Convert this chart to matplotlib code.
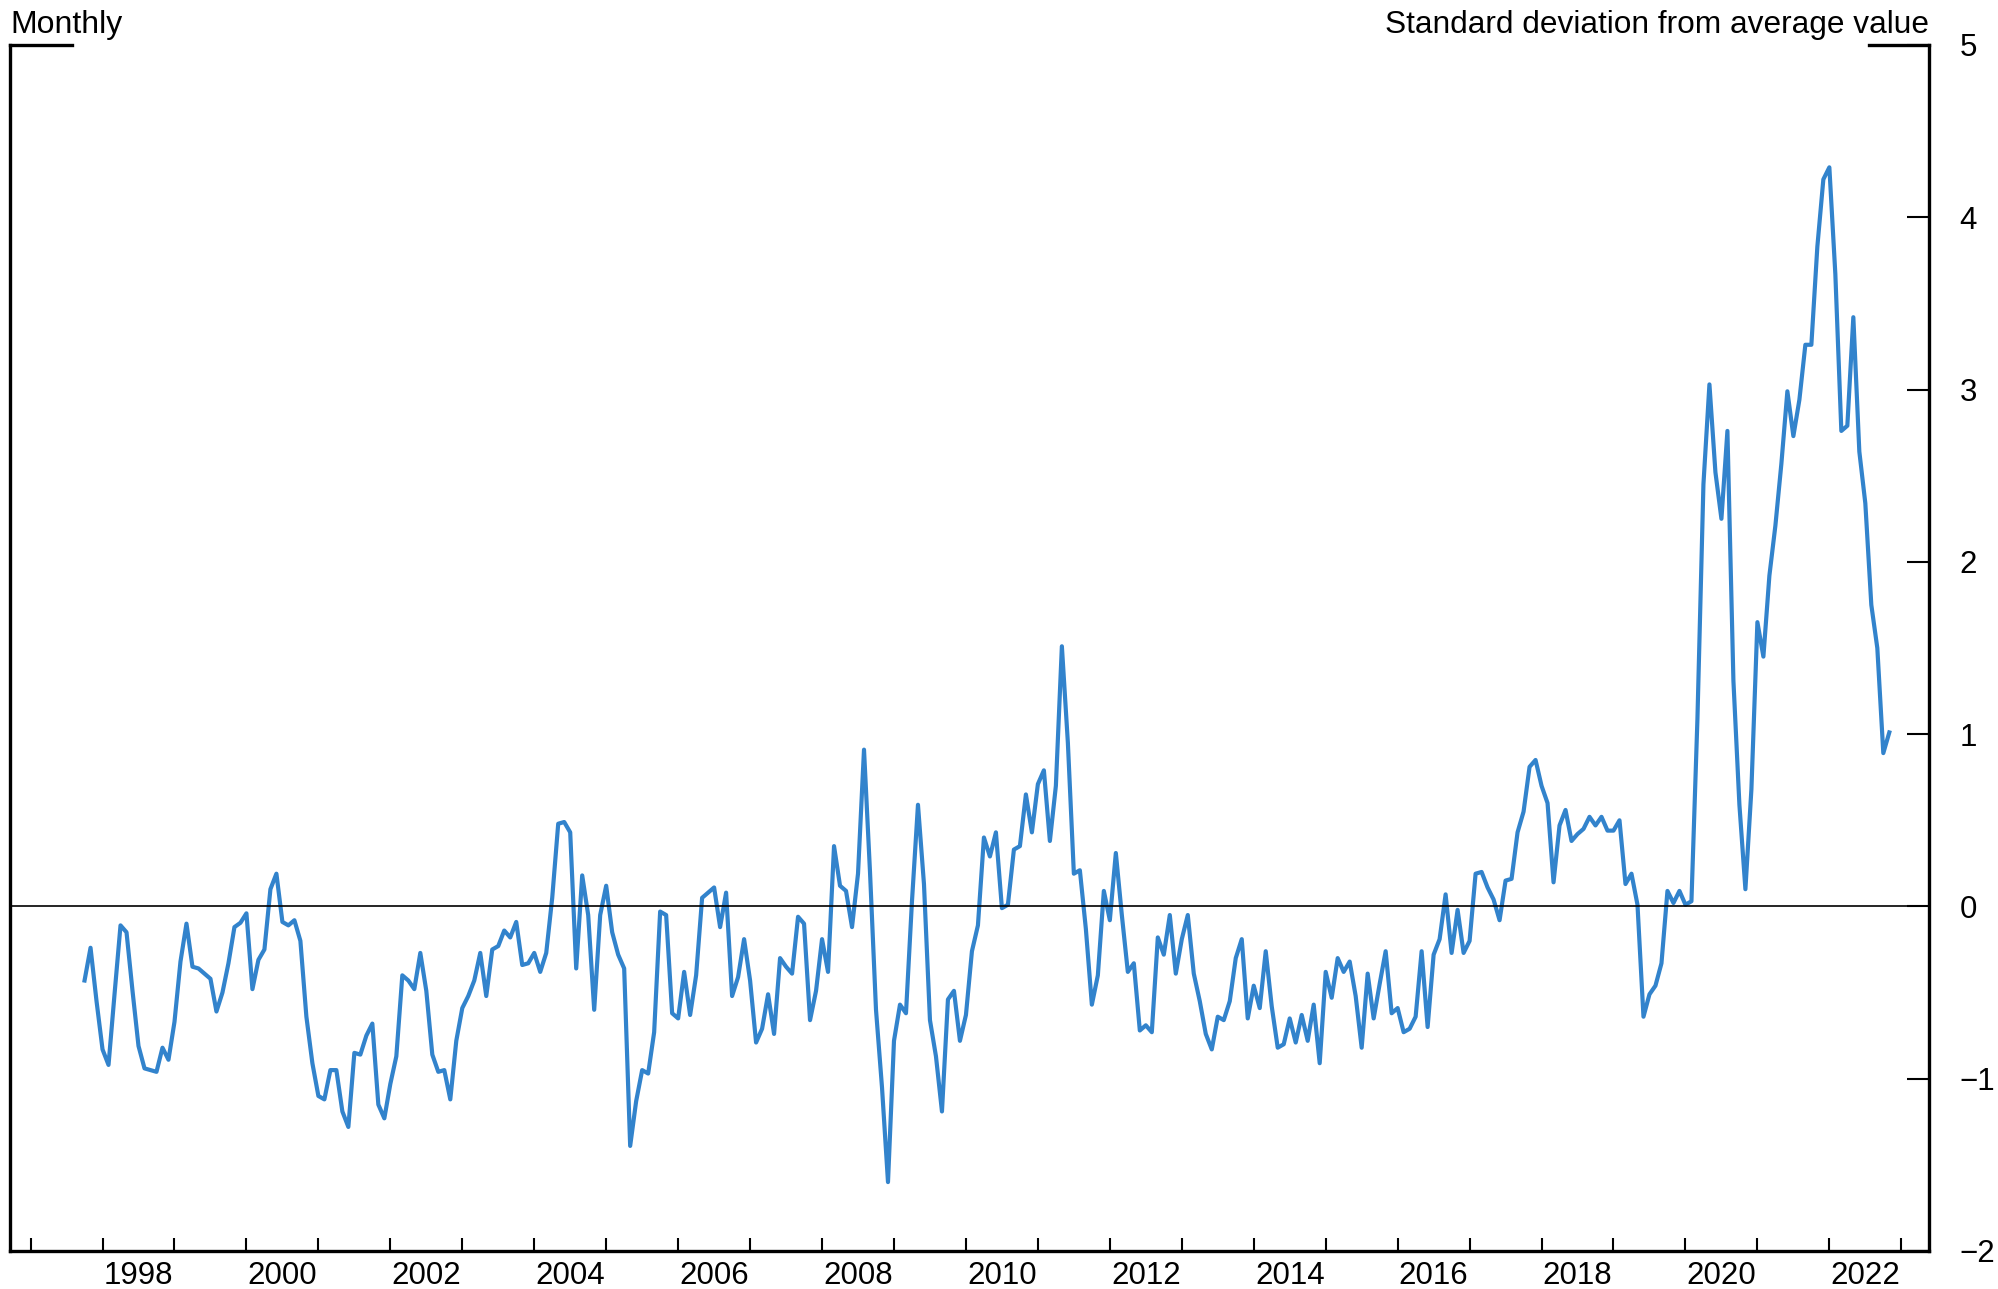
import numpy as np
import matplotlib
matplotlib.use("Agg")
import matplotlib.pyplot as plt

plt.rcParams['font.family'] = ['Liberation Sans', 'DejaVu Sans']

# Monthly index values, first month is Sep 1997
start_year = 1997
start_month = 9
gscpi = [
    -0.43, -0.24, -0.55, -0.83,
    -0.92, -0.51, -0.11, -0.15, -0.49, -0.81, -0.94, -0.95, -0.96, -0.82, -0.89, -0.67,
    -0.32, -0.10, -0.35, -0.36, -0.39, -0.42, -0.61, -0.50, -0.33, -0.12, -0.095, -0.04,
    -0.48, -0.31, -0.25, 0.10, 0.19, -0.09, -0.11, -0.08, -0.20, -0.64, -0.91, -1.10,
    -1.12, -0.95, -0.95, -1.19, -1.28, -0.85, -0.86, -0.75, -0.68, -1.15, -1.23, -1.03,
    -0.87, -0.40, -0.43, -0.48, -0.27, -0.49, -0.86, -0.96, -0.95, -1.12, -0.78, -0.59,
    -0.52, -0.43, -0.27, -0.52, -0.25, -0.23, -0.14, -0.18, -0.09, -0.34, -0.33, -0.27,
    -0.38, -0.27, 0.05, 0.48, 0.49, 0.43, -0.36, 0.18, -0.05, -0.60, -0.05, 0.12,
    -0.15, -0.28, -0.36, -1.39, -1.13, -0.95, -0.97, -0.73, -0.03, -0.05, -0.62, -0.65,
    -0.38, -0.63, -0.40, 0.05, 0.08, 0.11, -0.12, 0.08, -0.52, -0.41, -0.19, -0.43,
    -0.79, -0.71, -0.51, -0.74, -0.30, -0.35, -0.39, -0.06, -0.10, -0.66, -0.49, -0.19,
    -0.38, 0.35, 0.12, 0.09, -0.12, 0.19, 0.91, 0.20, -0.60, -1.05, -1.60, -0.78,
    -0.57, -0.62, 0.03, 0.59, 0.13, -0.66, -0.87, -1.19, -0.54, -0.49, -0.78, -0.63,
    -0.26, -0.11, 0.40, 0.29, 0.43, -0.01, 0.01, 0.33, 0.35, 0.65, 0.43, 0.71,
    0.79, 0.38, 0.70, 1.51, 0.95, 0.19, 0.21, -0.13, -0.57, -0.40, 0.09, -0.08,
    0.31, -0.05, -0.38, -0.33, -0.72, -0.69, -0.73, -0.18, -0.28, -0.05, -0.39, -0.19,
    -0.05, -0.39, -0.55, -0.74, -0.83, -0.64, -0.66, -0.55, -0.30, -0.19, -0.65, -0.46,
    -0.59, -0.26, -0.58, -0.82, -0.80, -0.65, -0.79, -0.63, -0.78, -0.57, -0.91, -0.38,
    -0.53, -0.30, -0.38, -0.32, -0.52, -0.82, -0.39, -0.65, -0.45, -0.26, -0.62, -0.59,
    -0.73, -0.71, -0.64, -0.26, -0.70, -0.28, -0.19, 0.07, -0.27, -0.02, -0.27, -0.20,
    0.19, 0.20, 0.11, 0.04, -0.08, 0.15, 0.16, 0.43, 0.55, 0.81, 0.85, 0.70,
    0.60, 0.14, 0.47, 0.56, 0.38, 0.42, 0.45, 0.52, 0.47, 0.52, 0.44, 0.44,
    0.50, 0.13, 0.19, 0.01, -0.64, -0.51, -0.46, -0.33, 0.09, 0.02, 0.09, 0.01,
    0.03, 1.09, 2.45, 3.03, 2.52, 2.25, 2.76, 1.31, 0.59, 0.10, 0.68, 1.65,
    1.45, 1.92, 2.21, 2.57, 2.99, 2.73, 2.94, 3.26, 3.26, 3.83, 4.22, 4.29,
    3.67, 2.76, 2.79, 3.42, 2.64, 2.34, 1.75, 1.50, 0.89, 1.01,
]

y_ticks = [5, 4, 3, 2, 1, 0, -1, -2]
tick_years = list(range(1997, 2024))
label_years = list(range(1998, 2023, 2))

# month-end positions in fractional years
months = np.arange(len(gscpi)) + (start_month - 1)
x = start_year + (months + 1) / 12.0

fig = plt.figure(figsize=(19.98, 12.89), dpi=100)
ax = fig.add_axes([10 / 1998, 38 / 1289, 1919 / 1998, 1206 / 1289])

ax.plot(x, gscpi, color='#3283cc', lw=3.0, solid_joinstyle='round')
ax.axhline(0, color='black', lw=1.2)

ax.set_xlim(1996.714, 2023.385)
ax.set_ylim(-2, 5)

ax.spines['top'].set_visible(False)
for s in ['left', 'right', 'bottom']:
    ax.spines[s].set_linewidth(2.4)

# short top corner pieces
ax.plot([0, 0.0323], [1, 1], transform=ax.transAxes, color='black', lw=2.4,
        clip_on=False, solid_capstyle='projecting')
ax.plot([1 - 0.0313, 1], [1, 1], transform=ax.transAxes, color='black', lw=2.4,
        clip_on=False, solid_capstyle='projecting')

ax.yaxis.tick_right()
ax.set_yticks(y_ticks)
ax.set_yticklabels([str(v).replace('-', '\u2212') for v in y_ticks])
ax.tick_params(axis='y', direction='in', length=16, width=1.5, pad=22,
               labelsize=22.5, right=True, left=False)

ax.set_xticks(tick_years)
ax.set_xticklabels([])
ax.set_xticks([yr + 0.5 for yr in label_years], minor=True)
ax.set_xticklabels([str(yr) for yr in label_years], minor=True)
ax.tick_params(axis='x', which='major', direction='in', length=9.5, width=1.5)
ax.tick_params(axis='x', which='minor', length=0, pad=7, labelsize=22.5)

fig.text(10 / 1998, 1 - 33 / 1289, 'Monthly', ha='left', va='baseline', fontsize=23)
fig.text(1929 / 1998, 1 - 33 / 1289, 'Standard deviation from average value',
         ha='right', va='baseline', fontsize=22.8)

fig.savefig('out.png', dpi=100)
